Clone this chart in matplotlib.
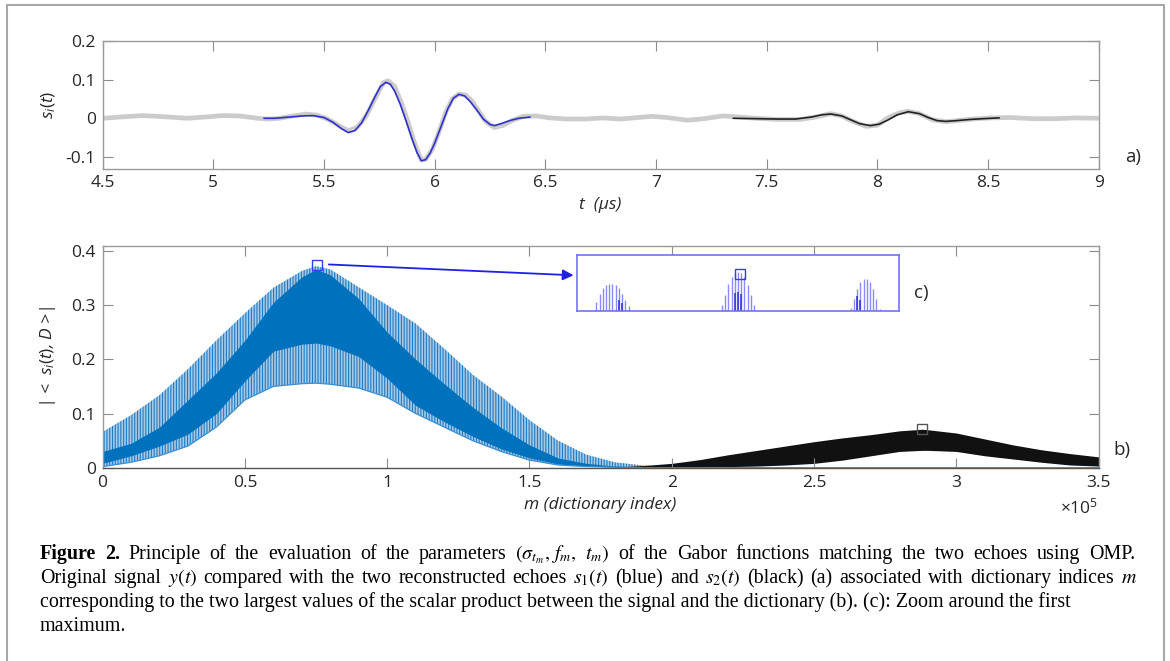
import numpy as np
import matplotlib
matplotlib.use('Agg')
import matplotlib.pyplot as plt
from matplotlib.patches import Rectangle
from matplotlib.ticker import FuncFormatter, MultipleLocator

plt.rcParams['font.family'] = ['Open Sans', 'DejaVu Sans']
plt.rcParams['mathtext.fontset'] = 'custom'
plt.rcParams['mathtext.rm'] = 'Open Sans'
plt.rcParams['mathtext.it'] = 'Open Sans:italic'
plt.rcParams['hatch.linewidth'] = 0.8

# ---- panel a) : original signal and the two reconstructed echoes (t in us)
t_sig = [4.50, 4.60, 4.68, 4.78, 4.88, 4.96, 5.04, 5.12, 5.20, 5.25, 5.30, 5.36,
         5.42, 5.47, 5.52, 5.57, 5.61, 5.65, 5.69, 5.73, 5.77, 5.79, 5.82, 5.85,
         5.88, 5.91, 5.94, 5.96, 5.99, 6.02, 6.05, 6.08, 6.11, 6.14, 6.17, 6.20,
         6.23, 6.27, 6.31, 6.35, 6.40, 6.46, 6.52, 6.60, 6.68, 6.76, 6.84, 6.92,
         6.98, 7.05, 7.14, 7.22, 7.30, 7.36, 7.45, 7.55, 7.65, 7.72, 7.79, 7.84,
         7.89, 7.95, 8.00, 8.05, 8.10, 8.14, 8.19, 8.25, 8.31, 8.38, 8.45, 8.52,
         8.60, 8.70, 8.80, 8.90, 9.00]
y_sig = [0.000, 0.004, 0.007, 0.004, 0.000, 0.003, 0.007, 0.006, 0.000, -0.002, 0.000, 0.006,
         0.011, 0.008, -0.003, -0.020, -0.032, -0.024, 0.005, 0.050, 0.093, 0.097, 0.082, 0.040,
         -0.010, -0.065, -0.108, -0.106, -0.080, -0.035, 0.015, 0.050, 0.063, 0.060, 0.044, 0.018,
         -0.008, -0.024, -0.018, -0.006, 0.005, 0.006, 0.001, -0.002, -0.002, 0.001, -0.002, 0.002,
         0.005, 0.002, -0.005, -0.001, 0.006, 0.004, 0.000, -0.003, -0.003, 0.003, 0.012, 0.006,
         -0.008, -0.021, -0.018, 0.002, 0.014, 0.018, 0.012, -0.004, -0.009, -0.005, -0.001, 0.001,
         0.002, -0.001, -0.001, 0.001, 0.000]

t_s1 = [5.23, 5.28, 5.34, 5.40, 5.45, 5.50, 5.54, 5.58, 5.61, 5.64, 5.67, 5.70, 5.73,
        5.755, 5.78, 5.80, 5.82, 5.845, 5.87, 5.895, 5.92, 5.94, 5.96, 5.98, 6.00,
        6.03, 6.06, 6.085, 6.11, 6.135, 6.16, 6.19, 6.22, 6.25, 6.27, 6.30, 6.34, 6.38, 6.43]
y_s1 = [0.000, 0.000, 0.003, 0.006, 0.007, 0.002, -0.010, -0.027, -0.037, -0.032, -0.012, 0.020, 0.055,
        0.082, 0.093, 0.088, 0.070, 0.036, -0.005, -0.048, -0.088, -0.110, -0.107, -0.090, -0.065,
        -0.020, 0.025, 0.052, 0.062, 0.058, 0.044, 0.022, -0.002, -0.016, -0.019, -0.014, -0.006, 0.000, 0.003]

t_s2 = [7.35, 7.45, 7.55, 7.63, 7.70, 7.75, 7.79, 7.84, 7.88, 7.92, 7.97, 8.01, 8.05,
        8.09, 8.14, 8.19, 8.23, 8.27, 8.31, 8.36, 8.42, 8.48, 8.55]
y_s2 = [0.000, -0.001, -0.002, -0.002, 0.003, 0.009, 0.011, 0.006, -0.004, -0.014, -0.019, -0.015, -0.004,
        0.009, 0.017, 0.012, 0.002, -0.006, -0.008, -0.006, -0.003, -0.001, 0.001]

# ---- panel b) : |<s_i(t), D>| envelopes
m_blue = [0, 10000, 20000, 30000, 40000, 50000, 60000, 70000, 75000, 80000, 90000,
          100000, 110000, 120000, 130000, 140000, 150000, 160000, 170000, 180000,
          190000, 200000, 250000, 300000, 350000]
blue_top = [0.066, 0.097, 0.134, 0.182, 0.235, 0.285, 0.332, 0.363, 0.372, 0.366, 0.333,
            0.300, 0.266, 0.220, 0.172, 0.132, 0.088, 0.050, 0.024, 0.010,
            0.004, 0.001, 0.0, 0.0, 0.0]
blue_core_top = [0.030, 0.045, 0.075, 0.125, 0.175, 0.235, 0.305, 0.352, 0.366, 0.356, 0.312,
                 0.250, 0.200, 0.155, 0.112, 0.074, 0.042, 0.018, 0.008, 0.003,
                 0.001, 0.0, 0.0, 0.0, 0.0]
blue_core_bot = [0.008, 0.022, 0.040, 0.062, 0.100, 0.160, 0.215, 0.228, 0.230, 0.225, 0.205,
                 0.165, 0.115, 0.085, 0.058, 0.035, 0.018, 0.007, 0.003, 0.001,
                 0.0, 0.0, 0.0, 0.0, 0.0]
blue_bot = [0.002, 0.010, 0.022, 0.040, 0.075, 0.125, 0.150, 0.155, 0.156, 0.154, 0.147,
            0.130, 0.100, 0.075, 0.050, 0.030, 0.014, 0.005, 0.002, 0.001,
            0.0, 0.0, 0.0, 0.0, 0.0]

m_black = [180000, 190000, 200000, 210000, 220000, 230000, 240000, 250000, 260000,
           270000, 280000, 288000, 290000, 300000, 310000, 320000, 330000, 340000, 350000]
black_top = [0.001, 0.004, 0.008, 0.015, 0.024, 0.032, 0.040, 0.048, 0.055,
             0.061, 0.068, 0.071, 0.070, 0.064, 0.053, 0.042, 0.033, 0.026, 0.020]
black_bot = [0.0, 0.0, 0.0, 0.001, 0.002, 0.003, 0.005, 0.008, 0.014,
             0.022, 0.030, 0.032, 0.032, 0.030, 0.022, 0.016, 0.010, 0.005, 0.003]

max1 = (75500, 0.374)
max2 = (288000, 0.072)

# ---- panel c) : zoom around the first maximum (stems, normalised height)
zoom_start = [6, 45, 85]
zoom_h = [[0.16, 0.31, 0.41, 0.47, 0.49, 0.49, 0.47, 0.41, 0.31, 0.19, 0.09, 0.01],
          [0.10, 0.28, 0.49, 0.61, 0.67, 0.70, 0.67, 0.61, 0.46, 0.28, 0.10],
          [0.05, 0.22, 0.40, 0.52, 0.57, 0.57, 0.52, 0.40, 0.22, 0.04]]
zoom_dark_i = [[7, 8], [4, 5, 6], [2, 3]]
zoom_dark_h = [[0.20, 0.14], [0.33, 0.34, 0.31], [0.26, 0.20]]

caption = [
    r"Principle of the evaluation of the parameters $(\sigma_{t_m},\,f_m,\;\,t_m)$ of the Gabor functions matching the two echoes using OMP.",
    r"Original signal $y(t)$ compared with the two reconstructed echoes $s_1(t)$ (blue) and $s_2(t)$ (black) (a) associated with dictionary indices $m$",
    "corresponding to the two largest values of the scalar product between the signal and the dictionary (b). (c): Zoom around the first",
    "maximum.",
]

W, H = 1170, 661
fig = plt.figure(figsize=(W / 100, H / 100), dpi=100)
fig.add_artist(Rectangle((7 / W, -0.05), 1157 / W, 1.05 - 5 / H, transform=fig.transFigure,
                         fill=False, edgecolor='#a8a8a8', linewidth=1.5))

TXT = '#262626'


def style(ax):
    ax.tick_params(direction='in', length=7, width=0.8, color='#8c8c8c', labelcolor=TXT,
                   labelsize=12.5, top=True, right=True, pad=5)
    for s in ax.spines.values():
        s.set_color('#9a9a9a')
        s.set_linewidth(1)


gfmt = FuncFormatter(lambda v, _: f'{v:g}')

# a)
ax1 = fig.add_axes([102.6 / W, 1 - 168.5 / H, 996 / W, 127.5 / H])
ax1.plot(t_sig, y_sig, color='#cccccc', lw=3.4, solid_capstyle='butt')
ax1.plot(t_s1, y_s1, color='#3030cc', lw=1.2)
ax1.plot(t_s2, y_s2, color='#222222', lw=1.2)
ax1.set_xlim(4.5, 9)
ax1.set_ylim(-0.13, 0.2)
ax1.xaxis.set_major_locator(MultipleLocator(0.5))
ax1.yaxis.set_major_locator(MultipleLocator(0.1))
ax1.xaxis.set_major_formatter(gfmt)
ax1.yaxis.set_major_formatter(gfmt)
style(ax1)
ax1.set_xlabel('t  (µs)', fontsize=12.5, style='italic', color=TXT)
ax1.set_ylabel(r'$s_i(t)$', fontsize=12.5, color=TXT)
ax1.xaxis.set_label_coords(0.5, -0.22)
ax1.yaxis.set_label_coords(-0.045, 0.5)

# b)
ax2 = fig.add_axes([102.6 / W, 1 - 467.7 / H, 996 / W, 222.2 / H])
ax2.fill_between(m_blue, blue_bot, blue_top, facecolor='#a6c9e8', edgecolor='#1f7cc2',
                 hatch='||||||', linewidth=0)
ax2.fill_between(m_blue, blue_core_bot, blue_core_top, color='#0072bd', linewidth=0)
ax2.fill_between(m_black, black_bot, black_top, color='#111111', linewidth=0)
ax2.plot(m_blue, blue_bot, color='#3c8fcf', lw=0.9)
ax2.plot(*max1, marker='s', mfc='none', mec='#3a3aee', ms=6.5, mew=1)
ax2.plot(*max2, marker='s', mfc='none', mec='#555555', ms=6.5, mew=1)
ax2.annotate('', xy=(165500, 0.355), xytext=(79500, 0.375),
             arrowprops=dict(arrowstyle='-|>', color='#1f1fe6', lw=1.3,
                             mutation_scale=16, shrinkA=0, shrinkB=0))
ax2.set_xlim(0, 350000)
ax2.set_ylim(0, 0.41)
ax2.xaxis.set_major_locator(MultipleLocator(50000))
ax2.yaxis.set_major_locator(MultipleLocator(0.1))
ax2.xaxis.set_major_formatter(FuncFormatter(lambda v, _: f'{v / 1e5:g}'))
ax2.yaxis.set_major_formatter(gfmt)
style(ax2)
ax2.spines['bottom'].set_color('#555555')
ax2.set_xlabel('m (dictionary index)', fontsize=12.5, style='italic', color=TXT)
ax2.set_ylabel(r'| <  $s_i(t)$, D >|', fontsize=12.5, style='italic', color=TXT)
ax2.xaxis.set_label_coords(0.5, -0.13)
ax2.yaxis.set_label_coords(-0.045, 0.5)
ax2.text(1.0, -0.18, r'$\times10^5$', transform=ax2.transAxes, ha='right', va='center',
         fontsize=12.5, color=TXT)

# c)
ax3 = fig.add_axes([577 / W, 1 - 311 / H, 322 / W, 56 / H])
for start, hs in zip(zoom_start, zoom_h):
    ax3.vlines(np.arange(len(hs)) + start, 0, hs, color='#8a8aff', lw=1)
for start, di, dh in zip(zoom_start, zoom_dark_i, zoom_dark_h):
    ax3.vlines(np.array(di) + start, 0, dh, color='#2d2dd2', lw=1.1)
ax3.plot(zoom_start[1] + 5.5, 0.66, marker='s', mfc='none', mec='#3a3aee', ms=6.5, mew=1)
ax3.set_xlim(0, 100)
ax3.set_ylim(0, 1)
ax3.set_xticks([])
ax3.set_yticks([])
for s in ax3.spines.values():
    s.set_color('#7373f0')
    s.set_linewidth(1.2)

fig.text(1133 / W, 1 - 157 / H, 'a)', fontsize=13.5, color=TXT, ha='center', va='center')
fig.text(1122 / W, 1 - 450 / H, 'b)', fontsize=13.5, color=TXT, ha='center', va='center')
fig.text(921 / W, 1 - 293 / H, 'c)', fontsize=13.5, color=TXT, ha='center', va='center')

# caption: natural width for the last lines, first two lines spread to the full width
r = fig.canvas.get_renderer()
x0 = 40
base = [559, 583, 607, 631]
cap_kw = dict(family='Liberation Serif', math_fontfamily='stix', va='baseline', color='black')

probe = fig.text(0, 0, caption[2], fontsize=14, **cap_kw)
fs = 14 * 1040 / probe.get_window_extent(r).width
probe.remove()


def put_words(words, x_start, x_end, y, weights=None):
    arts = [fig.text(0, 1 - y / H, w, fontsize=fs, **cap_kw) for w in words]
    if weights:
        for a, wt in zip(arts, weights):
            a.set_weight(wt)
    widths = [a.get_window_extent(r).width for a in arts]
    gap = (x_end - x_start - sum(widths)) / (len(arts) - 1)
    x = x_start
    for a, wd in zip(arts, widths):
        a.set_x(x / W)
        x += wd + gap


w1 = caption[0].split(' ')
put_words(['Figure', '2.'] + w1, x0, 1135, base[0], ['bold', 'bold'] + ['normal'] * len(w1))
put_words(caption[1].split(' '), x0, 1137, base[1])
for i in (2, 3):
    fig.text(x0 / W, 1 - base[i] / H, caption[i], fontsize=fs, **cap_kw)

fig.savefig('out.png', dpi=100)
